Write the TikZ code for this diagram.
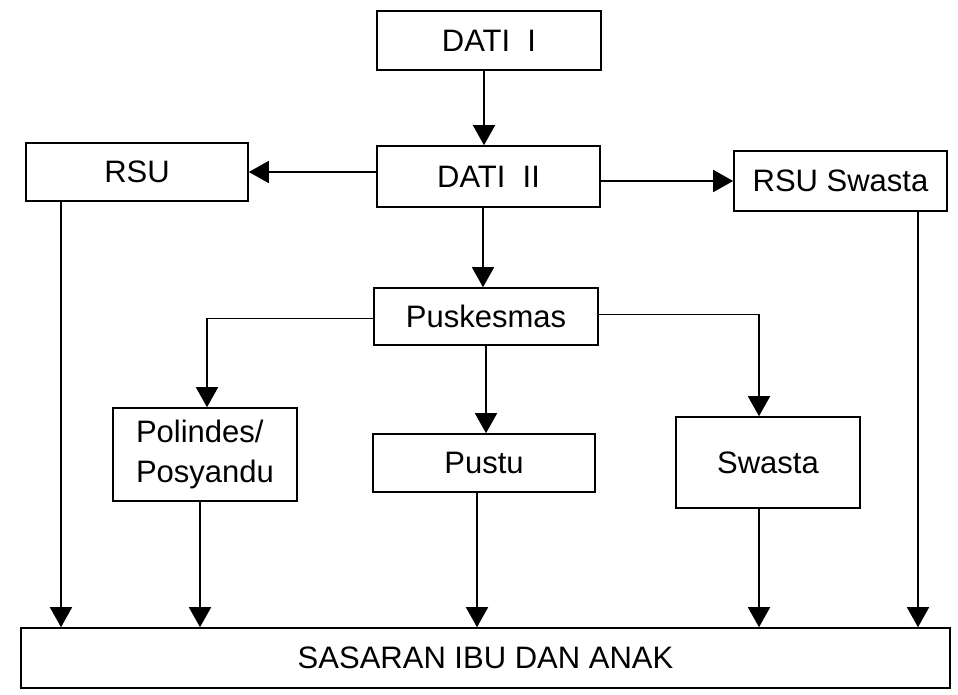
\documentclass[tikz,border=0pt]{standalone}
\usepackage{fontspec}
\setmainfont{Liberation Sans}
\usetikzlibrary{arrows.meta}

\begin{document}
\begin{tikzpicture}[x=1pt, y=-1pt,
    box/.style={draw, line width=1.6pt, inner sep=2pt, align=center,
        font=\fontsize{31}{40}\selectfont},
    flow/.style={line width=1.6pt, -{Triangle[length=20pt, width=22pt]}}]
    \useasboundingbox (0,0) rectangle (958,694);

    % Boxes
    \node[box, minimum width=224, minimum height=59] (dati1) at (489,40.5) {DATI~~I};
    \node[box, minimum width=223, minimum height=61] (dati2) at (488.5,176.5) {DATI~~II};
    \node[box, minimum width=222, minimum height=58] (rsu) at (137,172) {RSU};
    \node[box, minimum width=213, minimum height=60] (rsuswasta) at (840.5,181) {RSU Swasta};
    \node[box, minimum width=224, minimum height=57] (pusk) at (486,316.5) {Puskesmas};
    \node[box, minimum width=184, minimum height=93, align=left] (polindes) at (205,454.5) {Polindes/\\Posyandu};
    \node[box, minimum width=222, minimum height=58] (pustu) at (484,463) {Pustu};
    \node[box, minimum width=184, minimum height=91] (swasta) at (768,462.5) {Swasta};
    \node[box, minimum width=929, minimum height=60] (sasaran) at (485.5,658) {SASARAN IBU DAN ANAK};

    % Top connectors
    \draw[flow] ([xshift=-5pt]dati1.south) -- ([xshift=-5pt]dati1.south |- dati2.north);
    \draw[flow] (dati2.west |- rsu.east) -- (rsu.east);
    \draw[flow] (dati2.east |- rsuswasta.west) -- (rsuswasta.west);
    \draw[flow] ([xshift=-3pt]pusk.north |- dati2.south) -- ([xshift=-3pt]pusk.north);

    % Puskesmas branches
    \draw[flow] ([yshift=-2pt]pusk.west) -| ([xshift=2pt]polindes.north);
    \draw[flow] (pusk) -- (pusk |- pustu.north);
    \draw[flow] ([yshift=2pt]pusk.east) -| ([xshift=-9pt]swasta.north);

    % Down to Sasaran
    \foreach \src/\dx in {rsu/-76, polindes/-5, pustu/-7, swasta/-9, rsuswasta/77.5} {
        \draw[flow] ([xshift=\dx pt]\src.south) -- ([xshift=\dx pt]\src.south |- sasaran.north);
    }
\end{tikzpicture}
\end{document}
